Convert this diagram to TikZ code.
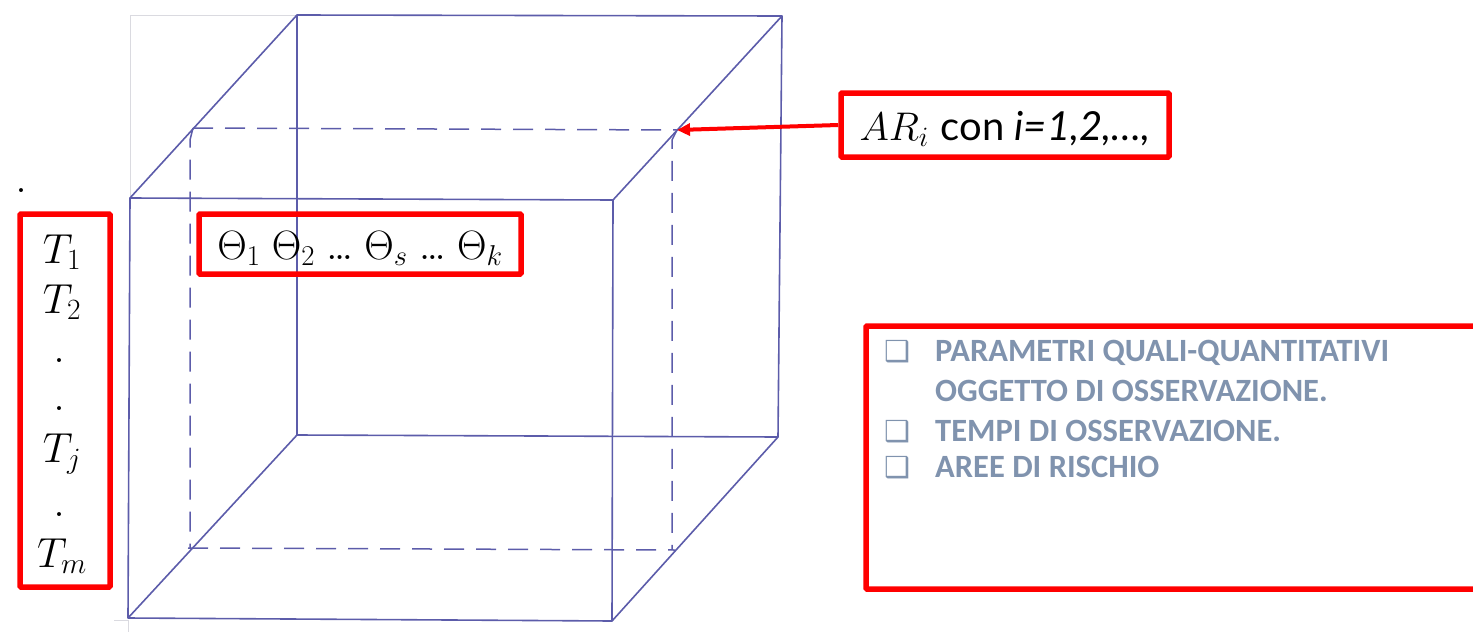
\RequirePackage{fix-cm}
\documentclass[tikz,border=0pt]{standalone}
\usepackage{fontspec}
\newfontfamily\labelsans{Lato}
\newfontfamily\listfont{Carlito}
\newfontfamily\symfont{DejaVu Sans}
\usetikzlibrary{arrows.meta}
\definecolor{cubeblue}{RGB}{92,92,170}
\definecolor{boxred}{RGB}{255,0,0}
\definecolor{listgray}{RGB}{128,147,174}
\definecolor{faint}{RGB}{218,218,224}
% close-set ellipsis for the parameter row
\newcommand{\tightdots}{\mathord{.\mkern-1.5mu.\mkern-1.5mu.}}

\begin{document}
\begin{tikzpicture}[x=1pt,y=-1pt,
  edge/.style={cubeblue,line width=1.6pt,line join=round},
  section/.style={cubeblue,line width=1.5pt,dash pattern=on 20pt off 12pt},
  guide/.style={faint,line width=1pt},
  redbox/.style={draw=boxred,line width=5.5pt,inner sep=0pt,rounded corners=1pt},
  mathlbl/.style={inner sep=0pt,font=\fontsize{42}{42}\selectfont},
  dotlbl/.style={inner sep=0pt,font=\fontsize{48}{48}\selectfont},
  listtxt/.style={inner sep=0pt,anchor=base west,text=listgray,
    font=\listfont\bfseries\fontsize{32.5}{32.5}\selectfont},
  listmark/.style={inner sep=0pt,anchor=base west,text=listgray,
    font=\symfont\fontsize{29}{29}\selectfont},
  pointer/.style={boxred,line width=4pt,-{Triangle[length=13pt,width=12pt]}}
]
\useasboundingbox (0,0) rectangle (1473,632);

% faint construction lines of the sheet
\draw[guide] (130,198) -- (130,15) -- (297,15);
\draw[guide] (114,620) -- (128,620) -- (128,632);

% cube corners
\coordinate (ftl) at (130,198);
\coordinate (ftr) at (613,200);
\coordinate (fbr) at (612,621);
\coordinate (fbl) at (128,618);
\coordinate (btl) at (297,15);
\coordinate (btr) at (782,16);
\coordinate (bbr) at (778,437);
\coordinate (bbl) at (297,435);
% section through the cube
\coordinate (dtl) at (193,128);
\coordinate (dtr) at (677,130);
\coordinate (dbr) at (675,550);
\coordinate (dbl) at (188,548);

% solid edges
\draw[edge] (ftl) -- (ftr) -- (fbr) -- (fbl) -- cycle;
\draw[edge] (btl) -- (btr) -- (bbr) -- (bbl) -- cycle;
\draw[edge] (ftl) -- (btl);
\draw[edge] (ftr) -- (btr);
\draw[edge] (fbr) -- (bbr);
\draw[edge] (fbl) -- (bbl);

% dashed section
\draw[section] (dtl) -- (dtr);
\draw[section] (dtr) -- (672,140) -- (672,550);
\draw[section] (dbl) -- (dbr);
\draw[section] (dtl) -- (190,140) -- (190,548);

% stray mark
\node[dotlbl] (mark) at (21,191) {.};

% time column
\node[redbox,minimum width=90pt,minimum height=373pt] (tbox) at (65,400.5) {};
\node[mathlbl,anchor=base] (t1) at (62,263) {$T_1$};
\node[mathlbl,anchor=base] (t2) at (62,313) {$T_2$};
\node[dotlbl] (d1) at (59,361) {.};
\node[dotlbl] (d2) at (59,409) {.};
\node[mathlbl,anchor=base] (tj) at (62,462) {$T_j$};
\node[dotlbl] (d3) at (59,515) {.};
\node[mathlbl,anchor=base] (tm) at (62,567) {$T_m$};

% parameter row
\node[redbox,minimum width=322pt,minimum height=60pt] (thbox) at (360,244) {};
\node[mathlbl,anchor=base,font=\fontsize{41}{41}\selectfont] (theta) at (360,259)
  {$\Theta_1\;\Theta_2\;\tightdots\;\Theta_s\;\tightdots\;\Theta_k$};

% risk area label
\node[redbox,minimum width=328pt,minimum height=64pt] (arbox) at (1005,125) {};
\node[inner sep=0pt,anchor=base,font=\fontsize{40}{40}\selectfont] (ar) at (1005,140)
  {$AR_i$ {\labelsans con \itshape i=1,2,…,}};
\draw[pointer] (arbox.west) -- (dtr);

% legend
\node[redbox,minimum width=614pt,minimum height=263pt] (legend) at (1173,457.5) {};
\node[listmark] (m1) at (884,361) {❑};
\node[listtxt] (l1) at (935,361) {PARAMETRI QUALI-QUANTITATIVI};
\node[listtxt] (l2) at (935,401) {OGGETTO DI OSSERVAZIONE.};
\node[listmark] (m2) at (884,441) {❑};
\node[listtxt] (l3) at (935,441) {TEMPI DI OSSERVAZIONE.};
\node[listmark] (m3) at (884,477) {❑};
\node[listtxt] (l4) at (935,477) {AREE DI RISCHIO};
\end{tikzpicture}
\end{document}
